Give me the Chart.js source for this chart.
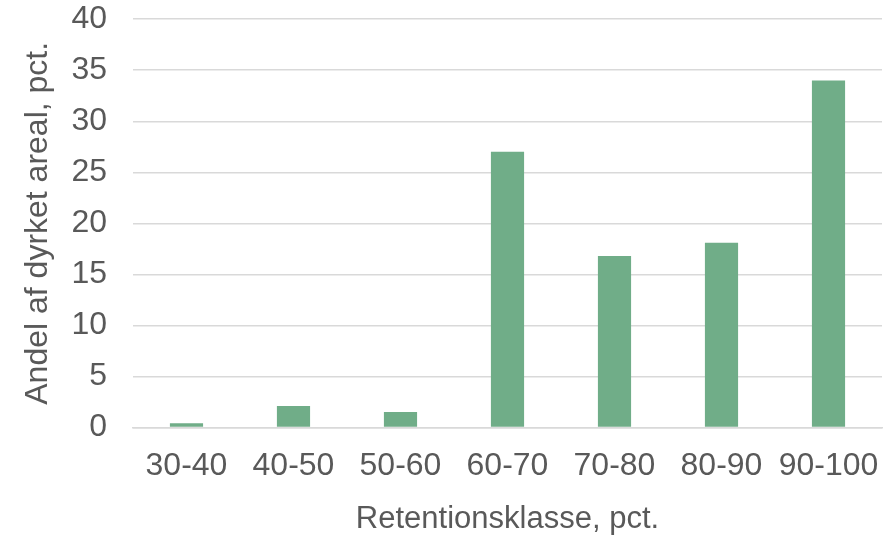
<!DOCTYPE html>
<html>
<head>
<meta charset="utf-8">
<script src="https://cdn.jsdelivr.net/npm/chart.js@4"></script>
<style>
html,body{margin:0;padding:0;background:#fff;}
#wrap{width:885px;height:540px;}
</style>
</head>
<body>
<div id="wrap"><canvas id="c"></canvas></div>
<script>
const categories = ["30-40","40-50","50-60","60-70","70-80","80-90","90-100"];
const values = [0.4, 2.1, 1.5, 27.0, 16.8, 18.1, 34.0];
const xTitle = "Retentionsklasse, pct.";
const yTitle = "Andel af dyrket areal, pct.";
const yMax = 40, yStep = 5;

const txt = '#595959';
const fontFam = "'Liberation Sans', Arial, sans-serif";

new Chart(document.getElementById('c'), {
  type: 'bar',
  data: {
    labels: categories,
    datasets: [{
      data: values,
      backgroundColor: '#70AD88',
      borderWidth: 0,
      barPercentage: 0.31,
      categoryPercentage: 1.0
    }]
  },
  options: {
    responsive: true,
    maintainAspectRatio: false,
    animation: false,
    events: [],
    layout: { padding: { left: 19, right: 3, top: 0, bottom: 0 } },
    plugins: { legend: { display: false }, tooltip: { enabled: false } },
    scales: {
      x: {
        grid: { display: false, drawTicks: true, tickLength: 20, tickColor: 'rgba(0,0,0,0)' },
        border: { display: true, color: '#D9D9D9', width: 1.5 },
        ticks: { color: txt, font: { family: fontFam, size: 32 }, padding: 0, maxRotation: 0, autoSkip: false },
        title: { display: true, text: xTitle, color: txt, font: { family: fontFam, size: 31 }, padding: { top: 15, bottom: 2 } }
      },
      y: {
        min: 0, max: yMax,
        grid: { color: '#D9D9D9', lineWidth: 1.5, drawTicks: true, tickLength: 26, tickColor: 'rgba(0,0,0,0)' },
        border: { display: false },
        ticks: { stepSize: yStep, color: txt, font: { family: fontFam, size: 32 }, padding: 0 },
        title: { display: true, text: yTitle, color: txt, font: { family: fontFam, size: 32 }, padding: { top: 0, bottom: 14 } }
      }
    }
  }
});
</script>
</body>
</html>
